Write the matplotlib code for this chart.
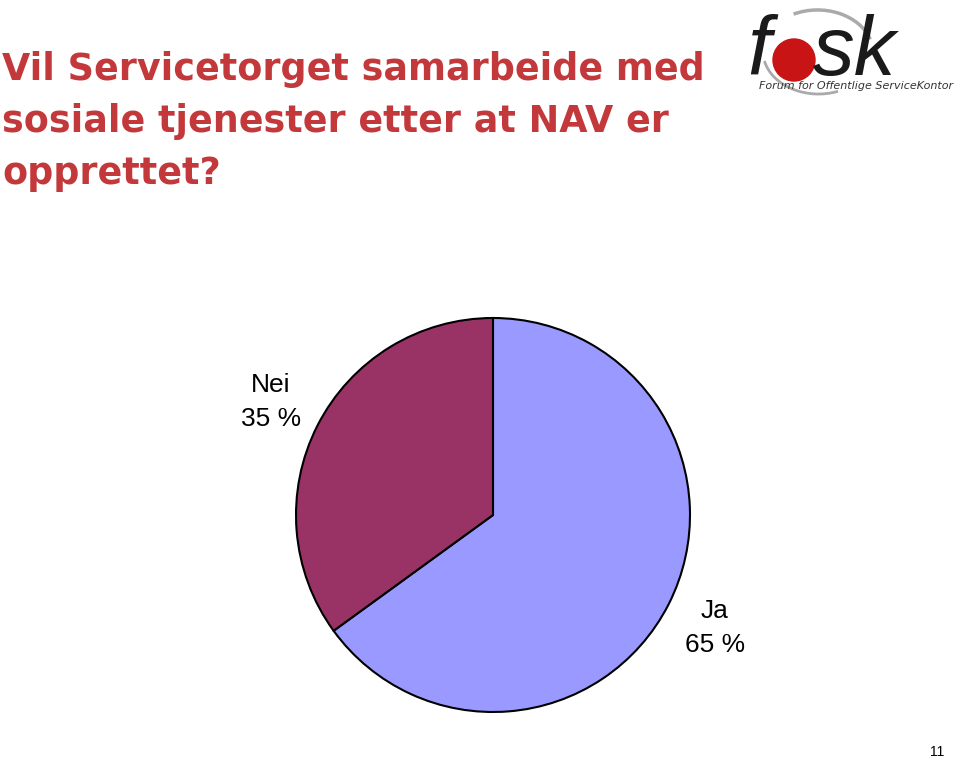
import matplotlib
matplotlib.use("Agg")
import matplotlib.pyplot as plt
from matplotlib.patches import Ellipse, Arc

categories = ["Ja", "Nei"]
values = [65, 35]
value_labels = ["65 %", "35 %"]
colors = ["#9999FF", "#993366"]
title_lines = ["Vil Servicetorget samarbeide med",
               "sosiale tjenester etter at NAV er",
               "opprettet?"]

W, H = 960, 760
fig = plt.figure(figsize=(W / 100, H / 100), dpi=100)

# pie axes: center (493,515), radius 197 px
cx, cy, r = 493, 515, 197
ax = fig.add_axes([(cx - r) / W, (H - cy - r) / H, 2 * r / W, 2 * r / H])
labels = [f"{c}\n{v}" for c, v in zip(categories, value_labels)]
wedges, texts = ax.pie(values, colors=colors, startangle=90, counterclock=False,
                       labels=labels, labeldistance=1.265,
                       wedgeprops=dict(edgecolor="black", linewidth=1.5),
                       textprops=dict(fontsize=19, family="Liberation Sans",
                                      linespacing=1.5))
for t in texts:
    t.set_ha("center")
    t.set_va("center")
    t.set_clip_on(False)
ax.set_xlim(-1, 1)
ax.set_ylim(-1, 1)
ax.set_aspect("equal")
ax.axis("off")

# title
for i, line in enumerate(title_lines):
    fig.text(2 / W, 1 - (80 + 52 * i) / H, line, fontsize=26.3, color="#C3393B",
             family="DejaVu Sans", weight="bold", ha="left", va="baseline")

# logo
def fx(x):
    return x / W


def fy(y):
    return 1 - y / H


tf = fig.transFigure
fig.patches.append(Arc((fx(818), fy(52)), 110 / W, 84 / H, angle=-8,
                       theta1=25, theta2=125, transform=tf,
                       color="#AAAAAA", lw=2.5))
fig.patches.append(Arc((fx(818), fy(52)), 110 / W, 84 / H, angle=-8,
                       theta1=200, theta2=300, transform=tf,
                       color="#AAAAAA", lw=2.0))
fig.text(fx(747), fy(75), "f", fontsize=60, color="#1A1A1A",
         family="Liberation Sans", style="italic", ha="left", va="baseline")
fig.patches.append(Ellipse((fx(794), fy(60)), 42 / W, 42 / H, transform=tf,
                           color="#C81414", zorder=3))
fig.text(fx(813), fy(75), "sk", fontsize=60, color="#1A1A1A",
         family="Liberation Sans", style="italic", ha="left", va="baseline")
fig.text(fx(856), fy(89), "Forum for Offentlige ServiceKontor", fontsize=8.0,
         color="#333333", family="DejaVu Sans", ha="center", va="baseline",
         style="italic")

fig.text(fx(937), fy(752), "11", fontsize=10, ha="center", va="center",
         family="Liberation Sans")

fig.savefig("out.png", dpi=100)
